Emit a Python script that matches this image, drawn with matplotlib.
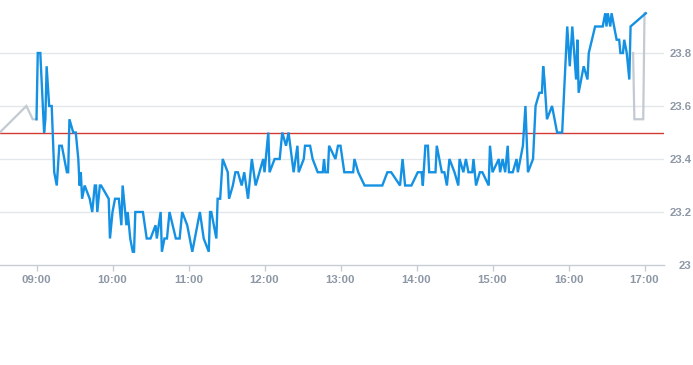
import matplotlib
matplotlib.use("Agg")
import matplotlib.pyplot as plt
from datetime import datetime

day = "2024-01-02 "

pre_times = ["08:31", "08:52", "08:57", "09:00"]
pre_values = [23.5, 23.6, 23.55, 23.55]

main_times = [
    "09:00", "09:01", "09:03", "09:06", "09:07", "09:08", "09:10", "09:12", "09:14", "09:16",
    "09:18", "09:20", "09:24", "09:25", "09:26", "09:29", "09:31", "09:33", "09:34", "09:35",
    "09:36", "09:38", "09:42", "09:44", "09:46", "09:47", "09:48", "09:50", "09:51", "09:57",
    "09:58", "10:00", "10:02", "10:05", "10:07", "10:08", "10:11", "10:12", "10:14", "10:16",
    "10:17", "10:18", "10:24", "10:27", "10:30", "10:34", "10:35", "10:38", "10:39", "10:41",
    "10:43", "10:45", "10:50", "10:53", "10:55", "10:59", "11:03", "11:07", "11:09", "11:12",
    "11:16", "11:17", "11:18", "11:22", "11:23", "11:25", "11:27", "11:31", "11:32", "11:35",
    "11:37", "11:39", "11:42", "11:44", "11:47", "11:50", "11:53", "11:59", "12:00", "12:03",
    "12:04", "12:08", "12:12", "12:14", "12:17", "12:19", "12:23", "12:26", "12:27", "12:31",
    "12:32", "12:36", "12:38", "12:42", "12:46", "12:47", "12:48", "12:50", "12:51", "12:56",
    "12:58", "13:00", "13:03", "13:10", "13:11", "13:14", "13:19", "13:33", "13:37", "13:40",
    "13:47", "13:49", "13:51", "13:56", "14:01", "14:04", "14:05", "14:07", "14:09", "14:10",
    "14:15", "14:16", "14:20", "14:22", "14:24", "14:26", "14:30", "14:33", "14:34", "14:37",
    "14:39", "14:41", "14:44", "14:45", "14:47", "14:50", "14:52", "14:57", "14:58", "15:00",
    "15:05", "15:06", "15:08", "15:10", "15:12", "15:13", "15:16", "15:19", "15:20", "15:24",
    "15:26", "15:28", "15:32", "15:34", "15:37", "15:39", "15:40", "15:41", "15:43", "15:47",
    "15:51", "15:55", "15:56", "15:59", "16:01", "16:03", "16:06", "16:07", "16:08", "16:12",
    "16:15", "16:16", "16:21", "16:27", "16:29", "16:30", "16:31", "16:33", "16:34", "16:36",
    "16:38", "16:40", "16:41", "16:43", "16:44", "16:46", "16:48", "16:49", "17:01",
]
main_values = [
    23.55, 23.8, 23.8, 23.5, 23.55, 23.75, 23.6, 23.6, 23.35, 23.3,
    23.45, 23.45, 23.35, 23.35, 23.55, 23.5, 23.5, 23.4, 23.3, 23.35,
    23.25, 23.3, 23.25, 23.2, 23.3, 23.3, 23.2, 23.3, 23.3, 23.25,
    23.1, 23.2, 23.25, 23.25, 23.15, 23.3, 23.15, 23.2, 23.1, 23.05,
    23.05, 23.2, 23.2, 23.1, 23.1, 23.15, 23.1, 23.2, 23.05, 23.1,
    23.1, 23.2, 23.1, 23.1, 23.2, 23.15, 23.05, 23.15, 23.2, 23.1,
    23.05, 23.2, 23.2, 23.1, 23.25, 23.25, 23.4, 23.35, 23.25, 23.3,
    23.35, 23.35, 23.3, 23.35, 23.25, 23.4, 23.3, 23.4, 23.35, 23.5,
    23.35, 23.4, 23.4, 23.5, 23.45, 23.5, 23.35, 23.45, 23.35, 23.4,
    23.45, 23.45, 23.4, 23.35, 23.35, 23.4, 23.35, 23.35, 23.45, 23.4,
    23.45, 23.45, 23.35, 23.35, 23.4, 23.35, 23.3, 23.3, 23.35, 23.35,
    23.3, 23.4, 23.3, 23.3, 23.35, 23.35, 23.3, 23.45, 23.45, 23.35,
    23.35, 23.45, 23.35, 23.35, 23.3, 23.4, 23.35, 23.3, 23.4, 23.35,
    23.4, 23.35, 23.35, 23.4, 23.3, 23.35, 23.35, 23.3, 23.45, 23.35,
    23.4, 23.35, 23.4, 23.35, 23.45, 23.35, 23.35, 23.4, 23.35, 23.45,
    23.6, 23.35, 23.4, 23.6, 23.65, 23.65, 23.75, 23.7, 23.55, 23.6,
    23.5, 23.5, 23.6, 23.9, 23.75, 23.9, 23.7, 23.85, 23.65, 23.75,
    23.7, 23.8, 23.9, 23.9, 23.95, 23.9, 23.95, 23.9, 23.95, 23.9,
    23.85, 23.85, 23.8, 23.8, 23.85, 23.8, 23.7, 23.9, 23.95,
]

post_times = ["16:51", "16:52", "16:59", "17:00", "17:01"]
post_values = [23.8, 23.55, 23.55, 23.95, 23.95]

ref_value = 23.5
y_ticks = [23.0, 23.2, 23.4, 23.6, 23.8]
y_labels = ["23", "23.2", "23.4", "23.6", "23.8"]
x_ticks = ["09:00", "10:00", "11:00", "12:00", "13:00", "14:00", "15:00", "16:00", "17:00"]


def t(s):
    return datetime.strptime(day + s, "%Y-%m-%d %H:%M")


fig = plt.figure(figsize=(6.93, 3.65), dpi=100)
ax = fig.add_axes([-1.5 / 693, 100 / 365, 665 / 693, 265 / 365])

grid_c = "#e3e6ea"
for v in y_ticks[1:]:
    ax.axhline(v, color=grid_c, lw=1.0, zorder=1)

ax.axhline(ref_value, color="#d23a33", lw=1.0, zorder=2)

ax.plot([t(s) for s in pre_times], pre_values, color="#c3cad2", lw=1.6, zorder=3,
        solid_joinstyle="miter")
ax.plot([t(s) for s in post_times], post_values, color="#c3cad2", lw=1.6, zorder=3,
        solid_joinstyle="miter")
ax.plot([t(s) for s in main_times], main_values, color="#1591e3", lw=1.7, zorder=4,
        solid_joinstyle="miter")

ax.set_xlim(t("08:30"), t("17:15"))
ax.set_ylim(23.0, 24.0)

for side in ["top", "left", "right"]:
    ax.spines[side].set_visible(False)
ax.spines["bottom"].set_color("#c8cdd4")
ax.spines["bottom"].set_linewidth(1.0)

ax.set_xticks([t(s) for s in x_ticks])
ax.set_xticklabels(x_ticks)
ax.tick_params(axis="x", length=4, width=1, color="#c8cdd4", pad=3.5,
               labelsize=8.2, labelcolor="#8d97a5")

ax.yaxis.tick_right()
ax.set_yticks(y_ticks)
ax.set_yticklabels(y_labels)
ax.tick_params(axis="y", length=0, pad=20.3, labelsize=8.2, labelcolor="#8d97a5")
for lab in ax.get_yticklabels():
    lab.set_horizontalalignment("right")

for lab in ax.get_xticklabels() + ax.get_yticklabels():
    lab.set_fontfamily("Liberation Sans")
    lab.set_fontweight("bold")

fig.savefig("out.png", dpi=100)
